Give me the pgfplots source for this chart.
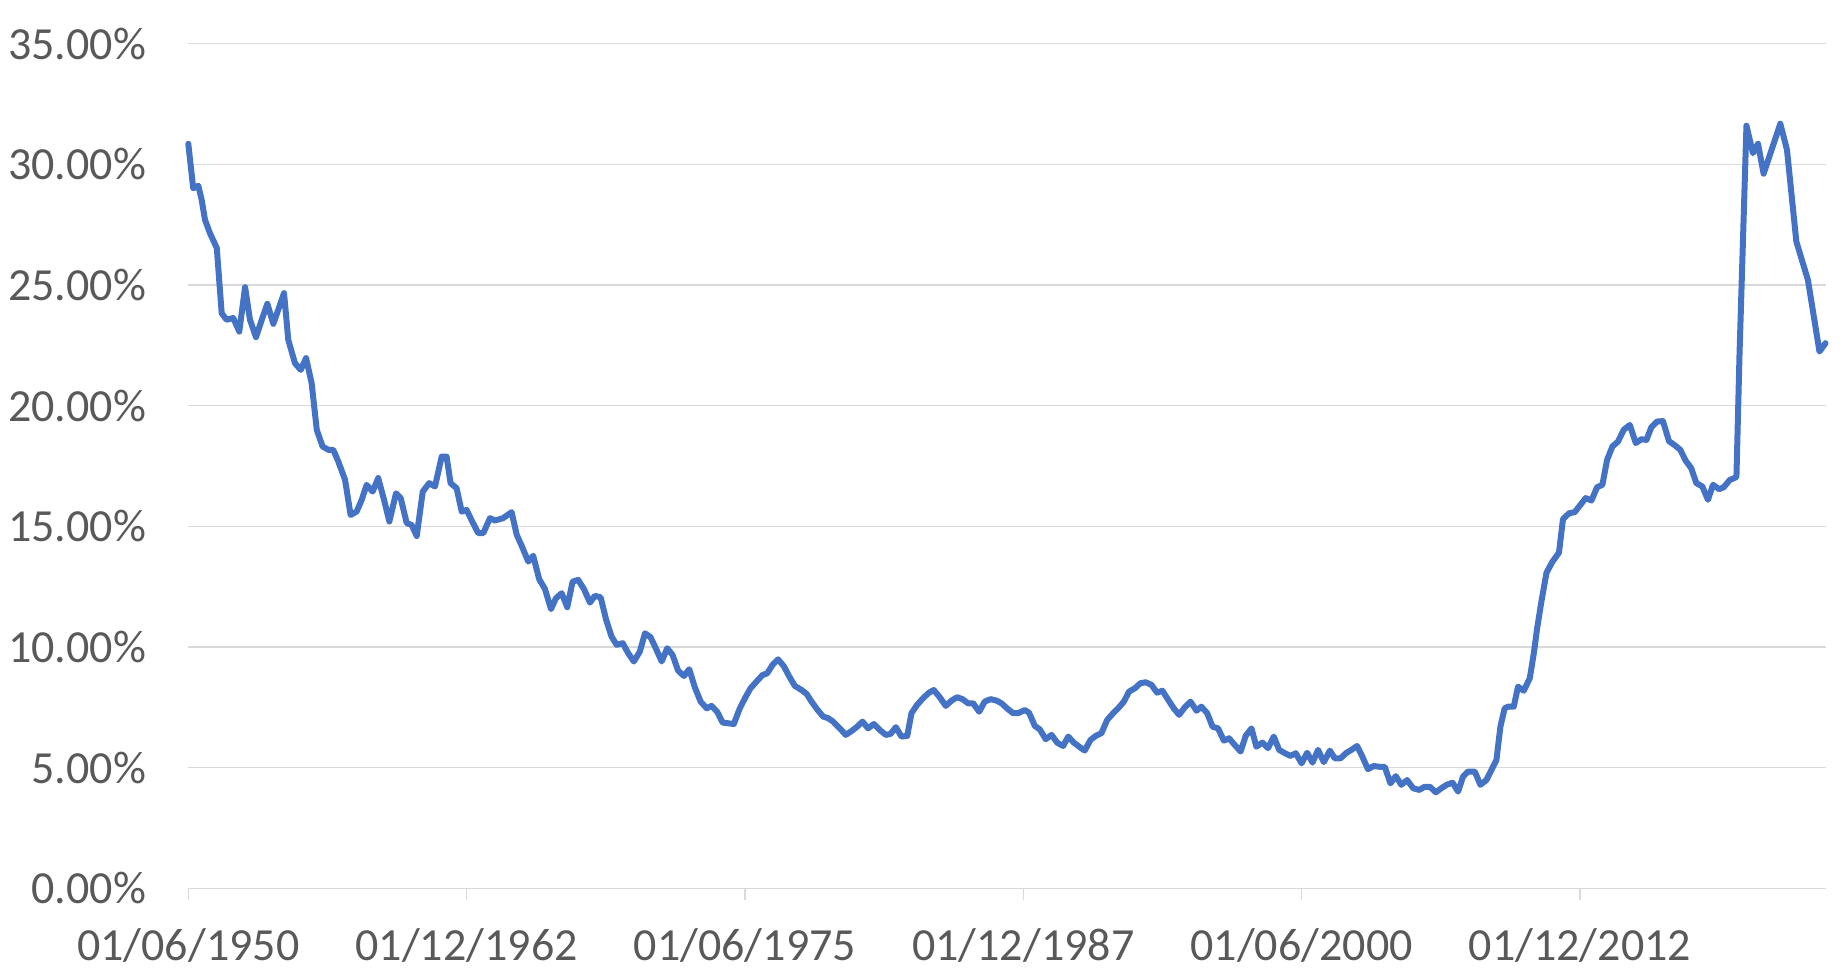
\documentclass[border=0pt]{standalone}
\usepackage{pgfplots}
\pgfplotsset{compat=1.18}
\usepackage{fontspec}
\setmainfont{Carlito}
\definecolor{lineblue}{HTML}{4472C4}
\definecolor{gridgray}{HTML}{D9D9D9}
\definecolor{labelgray}{HTML}{595959}
\begin{document}
\begin{tikzpicture}
\useasboundingbox (-94.15pt,-42.8pt) rectangle (827.35pt,444.2pt);
\begin{axis}[
  at={(0,0)}, anchor=south west,
  scale only axis, width=818.6pt, height=422.4pt,
  xmin=1950.42, xmax=2023.95, ymin=0, ymax=35,
  axis line style={draw=none},
  ymajorgrids, major grid style={gridgray, line width=0.75pt},
  ytick={0,5,10,15,20,25,30,35},
  yticklabels={0.00\%,5.00\%,10.00\%,15.00\%,20.00\%,25.00\%,30.00\%,35.00\%},
  xtick={1950.42,1962.92,1975.42,1987.92,2000.42,2012.92},
  xticklabels={01/06/1950,01/12/1962,01/06/1975,01/12/1987,01/06/2000,01/12/2012},
  xtick pos=lower, ytick pos=left, tick align=outside,
  major tick length=6pt,
  xtick style={gridgray, line width=0.75pt},
  ytick style={draw=none},
  ticklabel style={font=\fontsize{23}{27}\selectfont, text=labelgray},
  xticklabel style={anchor=north, inner sep=0pt, yshift=-14pt},
  yticklabel style={anchor=east, inner sep=0pt, xshift=-15pt},
  clip=false,
]
\addplot[lineblue, line width=3pt, line join=round, line cap=round] table {
1950.42 30.85
1950.64 29.01
1950.87 29.11
1951.02 28.53
1951.17 27.70
1951.39 27.15
1951.70 26.53
1951.92 23.83
1952.14 23.56
1952.44 23.63
1952.71 23.07
1952.97 24.91
1953.19 23.56
1953.46 22.84
1953.72 23.56
1953.97 24.22
1954.24 23.39
1954.72 24.66
1954.91 22.73
1955.21 21.76
1955.47 21.48
1955.71 21.97
1955.96 20.93
1956.19 19.00
1956.45 18.31
1956.71 18.17
1956.93 18.17
1957.16 17.68
1957.46 16.93
1957.71 15.47
1957.98 15.61
1958.21 16.10
1958.43 16.72
1958.70 16.44
1958.95 17.00
1959.21 16.10
1959.45 15.20
1959.75 16.37
1959.96 16.17
1960.23 15.13
1960.45 15.06
1960.68 14.60
1960.95 16.44
1961.24 16.79
1961.50 16.65
1961.80 17.89
1962.02 17.89
1962.20 16.79
1962.47 16.58
1962.70 15.61
1962.92 15.68
1963.15 15.24
1963.44 14.72
1963.67 14.72
1963.97 15.34
1964.19 15.24
1964.56 15.34
1964.94 15.59
1965.17 14.65
1965.39 14.20
1965.69 13.54
1965.91 13.78
1966.18 12.81
1966.44 12.40
1966.71 11.57
1966.93 12.02
1967.19 12.23
1967.44 11.65
1967.68 12.71
1967.93 12.78
1968.19 12.40
1968.46 11.84
1968.68 12.12
1968.94 12.06
1969.18 11.15
1969.43 10.43
1969.66 10.09
1969.93 10.16
1970.18 9.74
1970.43 9.40
1970.70 9.81
1970.93 10.57
1971.18 10.41
1971.45 9.88
1971.68 9.40
1971.93 9.95
1972.17 9.67
1972.42 9.02
1972.68 8.80
1972.92 9.08
1973.17 8.33
1973.43 7.74
1973.70 7.46
1973.92 7.56
1974.17 7.32
1974.42 6.87
1974.67 6.84
1974.92 6.81
1975.19 7.46
1975.42 7.88
1975.67 8.29
1975.94 8.57
1976.21 8.84
1976.42 8.91
1976.66 9.26
1976.91 9.49
1977.17 9.20
1977.41 8.78
1977.66 8.39
1977.96 8.22
1978.19 8.06
1978.41 7.74
1978.66 7.42
1978.93 7.12
1979.16 7.05
1979.38 6.91
1979.68 6.63
1979.95 6.36
1980.21 6.52
1980.46 6.70
1980.70 6.91
1980.95 6.63
1981.21 6.81
1981.48 6.56
1981.75 6.36
1981.96 6.40
1982.20 6.68
1982.45 6.29
1982.71 6.32
1982.90 7.26
1983.15 7.60
1983.42 7.88
1983.69 8.11
1983.90 8.22
1984.17 7.92
1984.44 7.56
1984.70 7.78
1984.95 7.92
1985.19 7.84
1985.44 7.67
1985.67 7.67
1985.94 7.32
1986.19 7.74
1986.45 7.84
1986.72 7.78
1986.94 7.67
1987.19 7.46
1987.46 7.26
1987.69 7.26
1987.99 7.39
1988.18 7.28
1988.44 6.73
1988.66 6.59
1988.93 6.18
1989.19 6.36
1989.44 6.04
1989.71 5.90
1989.94 6.29
1990.19 6.04
1990.46 5.85
1990.68 5.71
1990.94 6.15
1991.18 6.32
1991.43 6.43
1991.69 6.98
1991.93 7.23
1992.18 7.46
1992.44 7.74
1992.67 8.15
1992.93 8.29
1993.18 8.50
1993.42 8.54
1993.68 8.43
1993.93 8.11
1994.17 8.19
1994.43 7.81
1994.68 7.46
1994.92 7.19
1995.18 7.51
1995.43 7.74
1995.70 7.36
1995.92 7.53
1996.18 7.26
1996.42 6.70
1996.67 6.63
1996.93 6.12
1997.16 6.22
1997.42 5.94
1997.68 5.67
1997.91 6.32
1998.17 6.63
1998.39 5.87
1998.66 6.04
1998.91 5.81
1999.17 6.29
1999.41 5.74
1999.67 5.60
1999.92 5.49
2000.16 5.60
2000.42 5.18
2000.67 5.62
2000.91 5.21
2001.16 5.74
2001.42 5.23
2001.69 5.71
2001.91 5.39
2002.17 5.39
2002.44 5.62
2002.66 5.74
2002.91 5.90
2003.15 5.46
2003.40 4.94
2003.66 5.07
2003.90 5.04
2004.16 5.03
2004.41 4.35
2004.65 4.65
2004.90 4.29
2005.16 4.49
2005.43 4.15
2005.70 4.08
2005.95 4.21
2006.18 4.21
2006.45 3.98
2006.70 4.15
2006.93 4.29
2007.20 4.38
2007.45 4.01
2007.67 4.63
2007.90 4.84
2008.20 4.84
2008.45 4.29
2008.72 4.49
2008.95 4.91
2009.17 5.32
2009.35 6.70
2009.54 7.46
2009.69 7.53
2009.95 7.53
2010.14 8.36
2010.40 8.19
2010.67 8.71
2010.85 9.74
2011.00 10.78
2011.19 11.88
2011.42 13.08
2011.69 13.54
2011.98 13.91
2012.16 15.30
2012.43 15.54
2012.69 15.59
2012.91 15.85
2013.18 16.17
2013.44 16.07
2013.69 16.62
2013.93 16.72
2014.14 17.75
2014.38 18.31
2014.63 18.51
2014.89 19.00
2015.16 19.20
2015.43 18.45
2015.68 18.61
2015.91 18.58
2016.13 19.11
2016.38 19.34
2016.65 19.36
2016.92 18.53
2017.18 18.36
2017.43 18.17
2017.67 17.72
2017.92 17.41
2018.15 16.79
2018.42 16.65
2018.67 16.10
2018.90 16.72
2019.17 16.54
2019.38 16.62
2019.65 16.92
2019.95 17.04
2020.09 22.18
2020.40 31.60
2020.69 30.46
2020.92 30.85
2021.17 29.61
2021.92 31.68
2022.22 30.60
2022.64 26.80
2023.16 25.21
2023.68 22.24
2023.95 22.59
};
\end{axis}
\end{tikzpicture}
\end{document}
